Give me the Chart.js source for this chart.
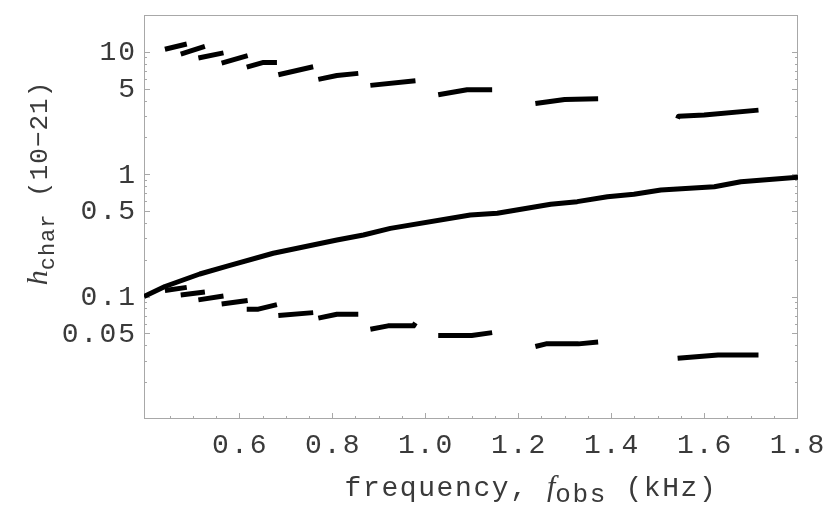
<!DOCTYPE html>
<html>
<head>
<meta charset="utf-8">
<script src="https://cdn.jsdelivr.net/npm/chart.js@4.4.1/dist/chart.umd.min.js"></script>
<style>
  html, body { margin: 0; padding: 0; background: #fff; }
  #wrap { width: 830px; height: 521px; }
</style>
</head>
<body>
<div id="wrap"><canvas id="chart" width="830" height="521"></canvas></div>
<script>
// characteristic strain, middle curve
const solidX = [0.395, 0.44, 0.515, 0.576, 0.673, 0.81, 0.867, 0.925, 1.097, 1.155, 1.27, 1.327, 1.392, 1.449, 1.507, 1.622, 1.679, 1.802];
const solidY = [0.1, 0.121, 0.153, 0.178, 0.226, 0.29, 0.319, 0.361, 0.464, 0.48, 0.568, 0.597, 0.655, 0.685, 0.743, 0.791, 0.869, 0.945];

// upper broken curve, null = gap between pieces
const upperX = [0.44, 0.487, null, 0.474, 0.526, null, 0.512, 0.566, null, 0.562, 0.618, null,
                0.616, 0.652, 0.681, null, 0.684, 0.759, null, 0.77, 0.81, 0.856, null, 0.882, 0.979, null,
                1.028, 1.09, 1.144, null, 1.237, 1.3, 1.372, null, 1.543, 1.545, 1.6, 1.717];
const upperY = [10.5, 11.6, null, 9.6, 11.1, null, 8.9, 9.8, null, 8.1, 9.3, null,
                7.5, 8.2, 8.2, null, 6.5, 7.55, null, 5.96, 6.4, 6.67, null, 5.32, 5.8, null,
                4.46, 4.9, 4.91, null, 3.79, 4.08, 4.13, null, 2.85, 2.98, 3.05, 3.34];

// lower broken curve
const lowerX = [0.44, 0.487, null, 0.474, 0.526, null, 0.512, 0.566, null, 0.562, 0.618, null,
                0.616, 0.641, 0.681, null, 0.684, 0.759, null, 0.77, 0.81, 0.856, null, 0.882, 0.92, 0.975, 0.979, null,
                1.028, 1.1, 1.144, null, 1.237, 1.26, 1.33, 1.372, null, 1.543, 1.63, 1.717];
const lowerY = [0.112, 0.119, null, 0.103, 0.109, null, 0.094, 0.101, null, 0.087, 0.093, null,
                0.079, 0.079, 0.086, null, 0.07, 0.074, null, 0.0667, 0.0718, 0.0718, null, 0.0542, 0.0577, 0.0577, 0.061, null,
                0.0481, 0.0481, 0.0508, null, 0.0391, 0.0411, 0.0411, 0.0425, null, 0.0314, 0.0334, 0.0334];

const xTicks = [];
for (let i = 8; i <= 36; i++) xTicks.push(Math.round(i * 5) / 100);
const xLabels = [0.6, 0.8, 1.0, 1.2, 1.4, 1.6, 1.8];
const yTicks = [0.02, 0.03, 0.04, 0.05, 0.06, 0.07, 0.08, 0.09, 0.1, 0.2, 0.3, 0.4, 0.5, 0.6, 0.7, 0.8, 0.9,
                1, 2, 3, 4, 5, 6, 7, 8, 9, 10];
const yLabels = [10, 5, 1, 0.5, 0.1, 0.05];

function splitSegments(xs, ys) {
    const out = [];
    let cur = [];
    xs.forEach((x, i) => {
        if (x === null) { out.push(cur); cur = []; return; }
        cur.push({ x: x, y: ys[i] });
    });
    if (cur.length) out.push(cur);
    return out;
}

function lineSet(points) {
    return {
        data: points,
        borderColor: '#000',
        borderWidth: 5,
        borderCapStyle: 'butt',
        borderJoinStyle: 'round',
        pointRadius: 0,
        tension: 0,
        fill: false
    };
}

const datasets = [lineSet(splitSegments(solidX, solidY)[0])];
splitSegments(upperX, upperY).forEach(s => datasets.push(lineSet(s)));
splitSegments(lowerX, lowerY).forEach(s => datasets.push(lineSet(s)));

const MONO = '"Liberation Mono", "Courier New", monospace';
const SERIF = '"Liberation Serif", "Times New Roman", serif';

// draws pieces of text one after another, returns total width
function drawRuns(ctx, runs, x0, y0, measureOnly) {
    let x = x0;
    runs.forEach(r => {
        ctx.font = r.font;
        ctx.letterSpacing = r.spacing || '0px';
        if (!measureOnly) ctx.fillText(r.text, x, y0 + (r.dy || 0));
        x += ctx.measureText(r.text).width;
    });
    ctx.letterSpacing = '0px';
    return x - x0;
}

const frameTicks = {
    id: 'frameTicks',
    beforeDatasetsDraw(chart) {
        const { ctx, chartArea: a, scales: { x, y } } = chart;
        ctx.save();
        ctx.strokeStyle = '#a8a8a8';
        ctx.lineWidth = 1;
        ctx.strokeRect(a.left + 0.5, a.top + 0.5, a.right - a.left - 1, a.bottom - a.top - 1);
        ctx.beginPath();
        x.ticks.forEach(t => {
            if (t.value < 0.41) return;
            const px = Math.round(x.getPixelForValue(t.value)) + 0.5;
            const len = xLabels.includes(t.value) ? 6 : 3;
            ctx.moveTo(px, a.bottom); ctx.lineTo(px, a.bottom - len);
        });
        y.ticks.forEach(t => {
            const py = Math.round(y.getPixelForValue(t.value)) + 0.5;
            const len = yLabels.includes(t.value) ? 6 : 3;
            ctx.moveTo(a.left, py); ctx.lineTo(a.left + len, py);
            ctx.moveTo(a.right, py); ctx.lineTo(a.right - len, py);
        });
        ctx.stroke();
        ctx.restore();
    },
    afterDraw(chart) {
        const { ctx, chartArea: a, scales: { x, y } } = chart;
        ctx.save();
        ctx.fillStyle = '#3a3a3a';
        ctx.font = '28px ' + MONO;
        ctx.letterSpacing = '2px';
        ctx.textBaseline = 'middle';
        ctx.textAlign = 'right';
        yLabels.forEach(v => {
            ctx.fillText(String(v), a.left - 7, y.getPixelForValue(v) + 1);
        });
        ctx.textAlign = 'center';
        xLabels.forEach(v => {
            ctx.fillText(v.toFixed(1), x.getPixelForValue(v) + 1, a.bottom + 27);
        });
        ctx.letterSpacing = '0px';

        // x axis title
        ctx.textAlign = 'left';
        ctx.textBaseline = 'alphabetic';
        const xRuns = [
            { text: 'frequency, ', font: '28px ' + MONO, spacing: '1.6px' },
            { text: 'f', font: 'italic 30px ' + SERIF },
            { text: 'obs', font: '26px ' + MONO, dy: 6, spacing: '1.6px' },
            { text: ' (kHz)', font: '28px ' + MONO, spacing: '1.6px' }
        ];
        const wx = drawRuns(ctx, xRuns, 0, 0, true);
        drawRuns(ctx, xRuns, 531 - wx / 2, 496, false);

        // y axis title, rotated
        const yRuns = [
            { text: 'h', font: 'italic 30px ' + SERIF },
            { text: 'char', font: '22px ' + MONO, dy: 7, spacing: '1px' },
            { text: ' (10\u221221)', font: '26px ' + MONO, spacing: '1px' }
        ];
        const wy = drawRuns(ctx, yRuns, 0, 0, true);
        ctx.translate(47, 183);
        ctx.rotate(-Math.PI / 2);
        drawRuns(ctx, yRuns, -wy / 2, 0, false);
        ctx.restore();
    }
};

new Chart(document.getElementById('chart'), {
    type: 'line',
    data: { datasets: datasets },
    options: {
        responsive: false,
        animation: false,
        layout: { padding: { top: 15, right: 32, left: 0, bottom: 0 } },
        plugins: { legend: { display: false }, tooltip: { enabled: false } },
        scales: {
            x: {
                type: 'linear',
                min: 0.395,
                max: 1.802,
                grid: { display: false },
                border: { display: false },
                ticks: { display: false },
                afterBuildTicks: s => { s.ticks = xTicks.map(v => ({ value: v })); },
                afterFit: s => { s.height = 102; }
            },
            y: {
                type: 'logarithmic',
                min: 0.01,
                max: 20,
                grid: { display: false },
                border: { display: false },
                ticks: { display: false },
                afterBuildTicks: s => { s.ticks = yTicks.map(v => ({ value: v })); },
                afterFit: s => { s.width = 144; }
            }
        }
    },
    plugins: [frameTicks]
});
</script>
</body>
</html>
